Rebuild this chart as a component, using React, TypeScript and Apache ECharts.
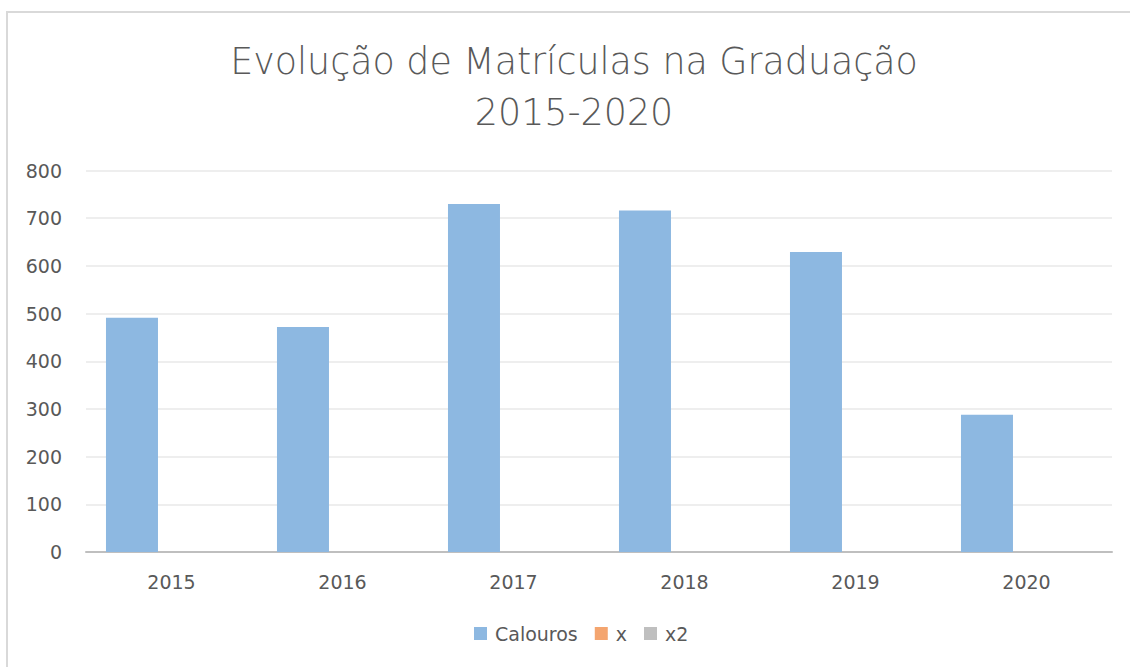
import React, { useEffect, useRef } from "react";
import * as echarts from "echarts";

const categories = ["2015", "2016", "2017", "2018", "2019", "2020"];
const calouros = [491, 472, 730, 716, 629, 288];
const serieX = [0, 0, 0, 0, 0, 0];
const serieX2 = [0, 0, 0, 0, 0, 0];
const seriesNames = ["Calouros", "x", "x2"];
const titleLines = ["Evolução de Matrículas na Graduação", "2015-2020"];

const FONT = "'DejaVu Sans', 'Noto Sans', sans-serif";
const TXT = "#595959";

export default function App() {
  const ref = useRef<HTMLDivElement>(null);
  useEffect(() => {
    if (!ref.current) return;
    const chart = echarts.init(ref.current, undefined, { renderer: "svg" });
    chart.setOption({
      animation: false,
      backgroundColor: "#ffffff",
      textStyle: { fontFamily: FONT },
      legend: {
        data: seriesNames,
        left: 469,
        top: 619,
        itemWidth: 13,
        itemHeight: 13,
        itemGap: 17,
        icon: "rect",
        textStyle: { fontFamily: FONT, fontSize: 19, color: TXT, padding: [0, 0, 0, 3] },
      },
      grid: { left: 86, right: 18, top: 170.5, bottom: 115, containLabel: false },
      xAxis: {
        type: "category",
        data: categories,
        axisLine: { show: true, lineStyle: { color: "#bfbfbf", width: 2 } },
        axisTick: { show: false },
        axisLabel: { color: TXT, fontFamily: FONT, fontSize: 19, margin: 20 },
        splitLine: { show: false },
      },
      yAxis: {
        type: "value",
        min: 0,
        max: 800,
        interval: 100,
        axisLine: { show: false },
        axisTick: { show: false },
        axisLabel: { color: TXT, fontFamily: FONT, fontSize: 19, margin: 24 },
        splitLine: { lineStyle: { color: "#eeeeee", width: 2 } },
      },
      series: [
        { name: seriesNames[0], type: "bar", data: calouros, barWidth: 52, barGap: "-24%", itemStyle: { color: "#8db8e1" } },
        { name: seriesNames[1], type: "bar", data: serieX, barWidth: 52, barGap: "-24%", itemStyle: { color: "#f4a56f" } },
        { name: seriesNames[2], type: "bar", data: serieX2, barWidth: 52, barGap: "-24%", itemStyle: { color: "#bfbfbf" } },
      ],
      graphic: [
        {
          type: "rect",
          silent: true,
          z: -1,
          shape: { x: 7, y: 12, width: 1140, height: 700 },
          style: { fill: "none", stroke: "#d9d9d9", lineWidth: 2 },
        },
        {
          type: "text",
          x: 574,
          y: 61,
          style: {
            text: titleLines[0],
            align: "center",
            verticalAlign: "middle",
            fontFamily: FONT,
            fontWeight: 200,
            fontSize: 36.4,
            fill: TXT,
          },
        },
        {
          type: "text",
          x: 574,
          y: 112.5,
          style: {
            text: titleLines[1],
            align: "center",
            verticalAlign: "middle",
            fontFamily: FONT,
            fontWeight: 200,
            fontSize: 36.4,
            fill: TXT,
          },
        },
      ],
    });
    return () => chart.dispose();
  }, []);
  return (
    <div
      ref={ref}
      style={{ position: "fixed", left: 0, top: 0, width: 1130, height: 667 }}
    />
  );
}
